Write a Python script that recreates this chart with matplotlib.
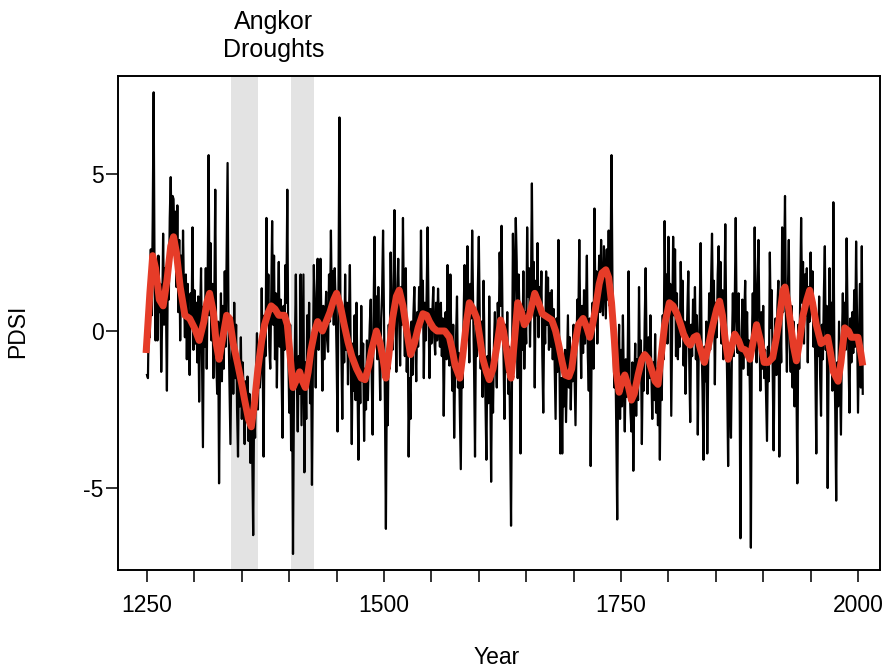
import matplotlib
matplotlib.use("Agg")
import matplotlib.pyplot as plt
import numpy as np

plt.rcParams['font.family'] = ['Liberation Sans', 'DejaVu Sans']

start_year = 1250
pdsi = [
    # 1250s
    -1.4, -1.5, 0.9, -0.2, 2.6, 0.5, 3.5, 7.6, 1.5, -0.3,
    1.8, -0.3, 2.4, 0.6, 1.5, -1.3, 0.4, 3.1, 0.2, 2.0,
    0.8, -1.9, 2.2, 1.0, 3.6, 4.9, 3.0, 4.3, 4.2, 2.6,
    3.8, 1.4, 4.0, 0.6, 2.9, -0.3, 2.4, 0.8, 3.2, 1.2,
    -0.2, 1.8, -0.9, 1.5, -0.5, -1.4, 1.2, 0.3, 3.3, -0.6,
    # 1300s
    1.3, -0.4, 0.9, -1.0, 1.1, -2.25, 0.4, 2.0, -0.8, -3.7,
    0.8, -0.5, 2.0, -1.2, 1.6, 5.6, 0.5, 2.8, -0.3, 1.5,
    -1.5, 1.0, 4.5, -0.8, -2.0, 0.3, -4.85, -1.0, 1.2, -1.6,
    0.8, -1.2, 1.9, -0.5, 2.6, 5.35, 0.2, -1.8, -3.6, -0.8,
    0.4, -2.0, 0.9, -1.5, 0.2, -2.5, -4.0, -0.9, -2.4, -0.2,
    # 1350s
    -2.8, -1.0, -2.2, -3.6, -1.6, -2.9, -1.45, -3.5, -2.0, -4.2,
    -2.6, -3.9, -6.5, -2.2, -3.4, -1.5, -0.07, -2.5, -0.8, -1.8,
    -1.2, 1.36, -1.0, -4.0, 0.5, -0.8, 3.6, 0.3, 1.8, -0.5,
    -1.2, 1.0, 3.5, 0.2, 2.4, -0.9, 1.2, -1.8, 0.6, 2.2,
    -0.5, 1.0, -1.5, -3.4, 0.8, -0.6, 2.1, 0.9, 4.5, -0.5,
    # 1400s
    -2.6, 0.2, -3.8, -1.2, -7.1, -2.0, -0.5, 1.8, -1.5, -3.2,
    -0.8, -2.0, 1.8, -3.0, -0.5, 1.8, -4.5, -1.0, -2.8, 0.5,
    -1.6, 0.9, -2.3, -0.4, -4.9, -1.0, 2.1, 0.3, -1.8, 1.2,
    2.3, -0.6, 1.0, 2.3, 0.2, -1.9, 0.8, -0.9, 0.4, 1.25,
    -0.3, -0.66, 1.8, 0.3, 3.2, 0.6, 1.9, 0.2, 2.0, 0.9,
    # 1450s
    -0.8, -3.2, 1.5, 6.8, 1.0, -0.5, -2.8, 0.4, -1.0, 1.8,
    -0.6, 0.9, -1.7, 0.4, 2.1, -1.1, -3.6, -0.4, -1.9, 0.5,
    -2.2, 0.9, -1.5, -4.1, -0.8, -2.3, 0.8, -1.6, -0.4, -3.5,
    -1.2, -2.5, -0.3, -2.2, -0.9, 0.2, 1.0, -1.4, -3.3, 0.6,
    3.0, -0.2, 1.1, -0.9, 1.4, -0.6, -2.2, 0.4, 1.2, 3.2,
    # 1500s
    0.3, -2.4, -6.3, -1.5, -3.0, 0.2, -1.2, 2.5, 0.3, -0.6,
    1.5, 3.85, 0.8, -1.3, 1.0, 2.3, 0.4, -1.1, 1.4, 0.2,
    3.6, 0.6, -0.8, 2.0, -1.3, 0.2, -4.0, -1.5, -2.8, 0.3,
    -1.4, 0.5, 1.4, -0.3, -1.6, 0.6, -0.5, 1.4, 0.1, 3.2,
    0.4, 1.6, -1.5, 0.9, -0.3, 1.2, 3.3, 0.5, -1.5, 0.7,
    # 1550s
    -0.4, 0.6, 1.4, -0.2, -0.75, 0.9, -0.3, 1.35, 0.2, -0.5,
    0.9, -0.8, 0.4, -2.7, -0.3, 0.6, -0.9, 2.1, 0.2, -1.1,
    1.8, -0.4, -1.9, 0.2, -3.4, -1.2, -0.2, 1.1, -1.8, -0.7,
    -2.6, -4.4, -0.9, -1.8, 0.5, 2.1, -0.3, 0.8, 2.7, 0.6,
    -1.0, 1.5, 0.4, 3.2, 0.8, -1.2, -4.0, 0.2, -0.8, 1.4,
    # 1600s
    3.0, 0.4, -1.2, 0.3, -2.1, 1.6, -0.5, -2.2, -4.1, -0.8,
    -2.3, 1.1, -1.4, -4.8, -1.0, -2.6, -0.4, 0.6, -0.9, -1.8,
    0.9, -0.2, 2.5, 0.8, 3.35, 0.4, -0.6, -2.8, 0.2, -1.3,
    0.6, -2.0, -0.5, -3.1, -6.2, -1.4, 3.1, -0.3, 1.5, 3.6,
    2.2, -1.5, 1.8, 0.4, -3.9, 0.8, -0.6, 1.9, -1.2, 0.6,
    # 1650s
    -0.4, 3.3, 1.1, 2.0, -0.5, 1.3, 4.7, 0.9, 2.2, -1.8,
    1.6, 0.5, 2.8, -0.2, 1.4, 0.6, 1.9, -0.8, -2.6, 0.5,
    -0.4, 1.9, 0.2, 1.7, -0.6, 1.2, -0.5, 1.3, -0.9, 0.7,
    -1.1, -2.8, 0.4, -1.3, 2.9, -0.8, -3.9, -1.5, -3.9, -0.9,
    -2.4, -0.6, -2.9, -1.1, 0.5, -1.8, -0.2, -2.5, -0.9, -1.6,
    # 1700s
    0.2, -1.4, -3.0, -0.5, 1.0, 0.3, 2.9, 0.2, -1.5, 0.8,
    -0.7, 1.3, -0.4, 0.6, 2.4, -0.8, -1.9, 0.4, -4.3, -0.6,
    0.9, -1.2, 3.9, 0.8, 1.9, -0.4, 1.2, 2.4, 0.6, 2.9,
    1.2, 0.5, 2.7, 1.5, 0.4, 2.6, 1.0, 3.2, 0.8, 2.2,
    5.6, 1.4, -0.4, -1.8, -0.6, -3.1, -6.0, -1.2, 0.2, -2.8,
    # 1750s
    -0.6, -2.4, 0.5, -1.6, -3.2, -0.9, -2.1, -1.0, 1.9, -1.5,
    -2.6, -3.2, -1.0, -4.45, -1.8, -0.4, -2.7, -0.9, -2.2, 1.4,
    -1.2, -0.3, -3.6, -0.8, -1.9, 0.3, 2.0, -0.6, -2.0, -0.2,
    -1.5, 0.5, -1.3, -2.8, -1.0, -2.2, -0.1, -2.6, -1.2, -3.0,
    -1.1, -4.1, -0.8, -2.2, 0.5, -0.9, 3.5, 0.6, 1.8, -0.4,
    # 1800s
    3.0, 0.8, 1.5, -2.7, 0.2, 3.0, 0.5, 2.6, -0.8, 1.2,
    -0.9, 0.6, -0.5, 2.2, 0.4, 1.6, -1.1, 0.3, -2.0, -0.4,
    0.6, 1.9, -1.0, -2.9, 0.2, -0.8, 1.0, -0.3, 1.4, -0.9,
    0.5, -3.3, -0.6, 0.4, 2.8, -0.4, -1.9, -4.1, -0.5, -1.6,
    0.3, -3.9, -1.0, 1.2, -0.6, 1.5, 3.1, 0.4, 1.6, -1.7,
    # 1850s
    0.9, -0.2, 1.8, 2.7, 0.6, 2.2, -0.4, 1.3, -0.9, 0.8,
    3.4, 0.2, -1.6, -4.3, -0.9, -2.0, -3.4, -0.6, 1.2, -0.8,
    0.9, 3.6, 0.3, -0.7, 1.2, -0.9, -6.6, -0.5, 1.0, -1.2,
    0.4, 1.6, -0.8, 0.6, -1.4, -0.3, -2.0, -6.9, -0.4, 1.2,
    -0.6, 3.3, 0.5, -1.0, 1.5, 2.9, 0.2, -1.9, 0.6, -1.2,
    # 1900s
    0.8, -1.5, -0.6, -2.1, -3.5, -0.5, -1.6, 2.5, 0.1, 1.3,
    -1.2, -3.8, -0.9, 0.4, -1.4, 0.8, 1.6, -4.0, 0.5, -1.0,
    3.3, 0.6, 2.0, 4.3, 0.4, -1.3, 1.2, 2.9, -0.4, -1.3,
    0.8, -1.8, 0.3, -2.4, -0.6, -1.5, -4.85, 0.2, -1.2, 1.0,
    3.6, 0.9, 2.2, -0.4, 1.8, 0.5, 2.0, -1.0, 1.4, 0.3,
    # 1950s
    2.5, 0.8, 1.9, -0.5, 0.8, -1.2, -3.9, 0.4, -0.8, 1.1,
    -1.4, -2.7, 0.2, -0.9, 1.2, 2.7, -0.6, 0.8, -5.0, -0.9,
    2.0, -0.8, 0.9, -1.9, 4.1, -0.5, -2.6, -5.4, -1.0, -2.4,
    0.3, -1.5, -3.3, -0.4, 1.2, -0.8, 0.9, -0.6, 2.95, 0.4,
    -0.9, -2.6, 0.4, -1.0, 0.6, -0.7, 1.3, -0.5, 2.85, 0.3,
    # 2000s
    -2.6, -0.6, 1.5, -1.8, 2.7, -2.0,
]
years = np.arange(start_year, start_year + len(pdsi))

smooth_years = [
    1249, 1253, 1256, 1259, 1263, 1267, 1271, 1275, 1278, 1281, 1285, 1290,
    1295, 1300, 1305, 1310, 1313, 1316, 1320, 1323, 1326, 1330, 1334, 1337,
    1341, 1346, 1350, 1353, 1357, 1360, 1363, 1367, 1371, 1374, 1378, 1381,
    1385, 1389, 1395, 1398, 1401, 1404, 1407, 1411, 1414, 1417, 1420, 1423,
    1427, 1430, 1435, 1439, 1443, 1447, 1450, 1454, 1458, 1462, 1466, 1471,
    1476, 1480, 1484, 1487, 1492, 1496, 1499, 1502, 1505, 1509, 1513, 1516,
    1520, 1524, 1528, 1532, 1536, 1541, 1545, 1548, 1552, 1556, 1564, 1569,
    1572, 1575, 1580, 1583, 1587, 1590, 1594, 1598, 1601, 1604, 1608, 1611,
    1615, 1619, 1623, 1626, 1629, 1632, 1634, 1637, 1641, 1645, 1648, 1653,
    1659, 1663, 1667, 1672, 1677, 1681, 1684, 1688, 1691, 1695, 1698, 1701,
    1705, 1710, 1714, 1717, 1720, 1723, 1727, 1730, 1734, 1737, 1740, 1743,
    1745, 1748, 1751, 1754, 1758, 1761, 1764, 1768, 1772, 1775, 1779, 1782,
    1786, 1789, 1792, 1796, 1801, 1805, 1809, 1813, 1816, 1820, 1823, 1827,
    1830, 1834, 1838, 1842, 1847, 1851, 1854, 1857, 1860, 1863, 1866, 1870,
    1874, 1877, 1881, 1886, 1889, 1893, 1897, 1901, 1905, 1910, 1914, 1917,
    1921, 1923, 1926, 1929, 1932, 1935, 1938, 1942, 1946, 1949, 1952, 1956,
    1961, 1965, 1968, 1971, 1974, 1979, 1982, 1986, 1990, 1993, 1997, 2000,
    2003, 2005,
]
smooth_vals = [
    -0.7, 1.2, 2.4, 2.0, 1.0, 0.8, 1.6, 2.7, 3.0, 2.5, 1.4, 0.5,
    0.4, 0.1, -0.3, 0.3, 0.9, 1.2, 0.6, -0.4, -0.9, -0.2, 0.5, 0.4,
    -0.4, -1.1, -1.7, -2.2, -2.8, -3.05, -2.4, -1.2, -0.3, 0.2, 0.6, 0.8,
    0.7, 0.5, 0.5, 0.2, -0.8, -1.8, -1.6, -1.3, -1.6, -1.8, -1.3, -0.6,
    0.0, 0.3, 0.0, 0.3, 0.6, 1.0, 1.2, 0.8, 0.2, -0.35, -0.8, -1.2,
    -1.5, -1.55, -1.1, -0.6, 0.0, -0.4, -0.9, -1.5, -0.8, 0.4, 1.1, 1.3,
    0.8, 0.0, -0.75, -0.4, 0.1, 0.55, 0.5, 0.3, 0.1, 0.0, 0.0, -0.2,
    -0.6, -1.1, -1.5, -0.8, 0.3, 0.9, 0.7, 0.4, -0.2, -0.85, -1.3, -1.55,
    -1.2, -0.5, 0.35, 0.0, -0.55, -1.2, -1.5, -0.5, 0.9, 0.6, 0.2, 0.45,
    1.2, 0.9, 0.55, 0.45, 0.35, 0.0, -0.4, -1.0, -1.4, -1.45, -1.2, -0.5,
    0.2, 0.4, 0.1, -0.2, 0.2, 0.7, 1.5, 1.85, 1.95, 1.7, 0.9, -0.3,
    -1.3, -1.95, -1.6, -1.4, -1.8, -2.2, -2.0, -1.4, -0.9, -0.75, -0.9, -1.2,
    -1.6, -1.7, -0.9, 0.2, 0.9, 0.8, 0.55, 0.2, -0.1, -0.35, -0.45, -0.2,
    -0.15, -0.6, -1.0, -0.5, 0.2, 0.7, 0.95, 0.5, -0.3, -0.9, -0.6, -0.1,
    -0.3, -0.55, -0.6, -0.9, -0.4, 0.2, -0.3, -1.0, -1.0, -0.85, -0.2, 0.4,
    1.3, 1.4, 0.9, 0.2, -0.5, -0.95, -0.4, 0.5, 1.0, 1.3, 0.9, 0.2,
    -0.4, -0.3, -0.2, -0.7, -1.3, -1.6, -1.0, 0.1, 0.0, -0.2, -0.2, -0.2,
    -0.7, -1.1,
]

drought_periods = [(1339, 1367), (1402, 1426)]
x_ticks = [1250, 1500, 1750, 2000]
x_minor = list(range(1300, 2000, 50))
y_ticks = [-5, 0, 5]

W, H = 888, 670
fig = plt.figure(figsize=(W / 100, H / 100), dpi=100)
ax = fig.add_axes([118 / W, 1 - 570 / H, (880 - 118) / W, (570 - 76) / H])

for a, b in drought_periods:
    ax.axvspan(a, b, color='#e3e3e3', lw=0, zorder=0)

ax.plot(years, pdsi, color='black', lw=1.6, zorder=2)
ax.plot(smooth_years, smooth_vals, color='#e63c28', lw=5.0, zorder=3,
        solid_capstyle='butt', solid_joinstyle='round')

ax.set_xlim(1219.4, 2023.2)
ax.set_ylim(-7.61, 8.12)

ax.set_xticks(x_ticks)
ax.set_xticks(x_minor, minor=True)
ax.set_yticks(y_ticks)
ax.set_yticklabels(['-5', '0', '5'])
ax.tick_params(axis='both', which='both', direction='out', length=8.5,
               width=1.3, labelsize=16.5, color='#222222')
ax.tick_params(axis='x', which='both', pad=9)
ax.tick_params(axis='y', pad=2)
for s in ax.spines.values():
    s.set_linewidth(1.4)

fig.text(18 / W, 1 - 331 / H, 'PDSI', rotation=90, ha='center', va='center', fontsize=16.5)
fig.text(497 / W, 1 - 657 / H, 'Year', ha='center', va='center', fontsize=16.5)
title_x = sum(drought_periods[0] + drought_periods[1]) / 4
tx = ax.transData.transform((title_x, 0))[0] / W
fig.text(tx, 1 - 22 / H, 'Angkor', ha='center', va='center', fontsize=18)
fig.text(tx, 1 - 50 / H, 'Droughts', ha='center', va='center', fontsize=18)

fig.savefig('out.png', dpi=100)
